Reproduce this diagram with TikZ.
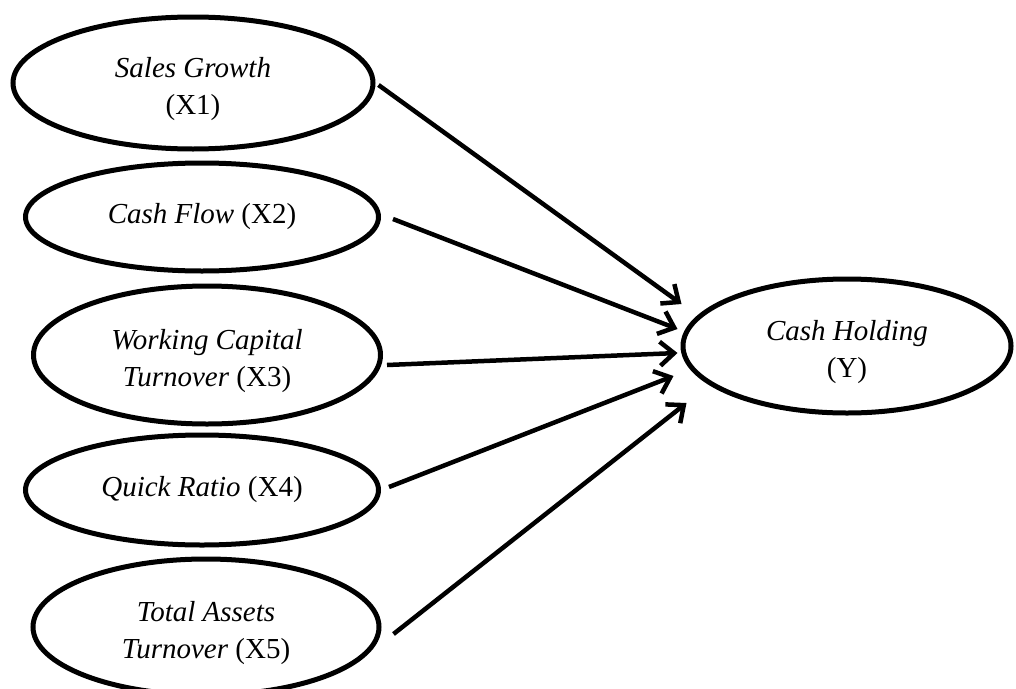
\documentclass[tikz,border=0pt]{standalone}
\usepackage{fontspec}
\setmainfont{Liberation Serif}
\usetikzlibrary{shapes.geometric,arrows.meta}
\begin{document}
\begin{tikzpicture}[x=1pt,y=1pt,
  txt/.style={align=center,inner sep=0pt,font=\fontsize{29}{37}\selectfont},
  var/.style={draw=black,line width=5pt,ellipse,inner sep=0pt,txt},
  two/.style={label={[txt,yshift=-6pt]center:#1}},
  arr/.style={draw=black,line width=4.5pt,
    -{Straight Barb[length=14pt,width=24pt,line width=4.5pt]}}]
\useasboundingbox (0,0) rectangle (1016,-688);
\node[var,minimum width=360,minimum height=132,two={\textit{Sales Growth}\\(X1)}] (x1) at (193,-83) {};
\node[var,minimum width=353,minimum height=108] (x2) at (202,-217) {\textit{Cash Flow} (X2)};
\node[var,minimum width=347,minimum height=138,two={\textit{Working Capital}\\\textit{Turnover} (X3)}] (x3) at (207,-355) {};
\node[var,minimum width=353,minimum height=110] (x4) at (202,-490) {\textit{Quick Ratio} (X4)};
\node[var,minimum width=346,minimum height=136,two={\textit{Total Assets}\\\textit{Turnover} (X5)}] (x5) at (206,-627) {};
\node[var,minimum width=328,minimum height=134,two={\textit{Cash Holding}\\(Y)}] (y) at (847,-346) {};
\draw[arr] ([shift={(3,-2)}]x1.east) -- ([shift={(1,42)}]y.west);
\draw[arr] ([shift={(12,-2)}]x2.east) -- ([shift={(-3,17)}]y.west);
\draw[arr] ([shift={(4,-10)}]x3.east) -- ([shift={(-3,-7)}]y.west);
\draw[arr] ([shift={(8,3)}]x4.east) -- ([shift={(-7,-30)}]y.west);
\draw[arr] ([shift={(12,-7)}]x5.east) -- ([shift={(6,-57)}]y.west);
\end{tikzpicture}
\end{document}
